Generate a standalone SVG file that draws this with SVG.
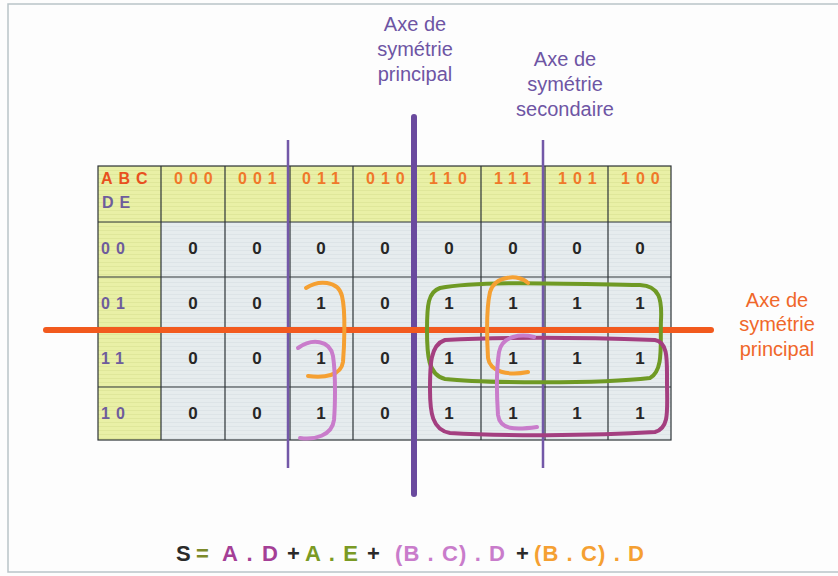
<svg xmlns="http://www.w3.org/2000/svg" width="838" height="576" viewBox="0 0 838 576">
<defs>
<pattern id="hatchY" width="6" height="4" patternUnits="userSpaceOnUse">
<rect width="6" height="4" fill="#e9f0a6"/>
<rect y="2" width="6" height="1" fill="#dfe79a"/>
</pattern>
<pattern id="hatchB" width="6" height="4" patternUnits="userSpaceOnUse">
<rect width="6" height="4" fill="#e6ecee"/>
<rect y="2" width="6" height="1" fill="#dde4e7"/>
</pattern>
</defs>
<style>
.hdr{font-family:"Liberation Sans",Arial,sans-serif;font-weight:bold;font-size:16px;fill:#f0782a;letter-spacing:6px}
.abc{fill:#e8501e}
.rl{font-family:"Liberation Sans",Arial,sans-serif;font-weight:bold;font-size:16px;fill:#6e5c9c;letter-spacing:6px}
.v{font-family:"Liberation Sans",Arial,sans-serif;font-weight:bold;font-size:17px;fill:#262626;text-anchor:middle}
.lbl{font-family:"Liberation Sans",Arial,sans-serif;font-size:20px;text-anchor:middle}
.pl{fill:#6e55a4}
.ol{fill:#f0672a}
.grid{stroke:#2e3438;stroke-width:1.2;fill:none}
.eq{font-family:"Liberation Sans",Arial,sans-serif;font-weight:bold;font-size:22px}
.loop{fill:none;stroke-width:4;stroke-linecap:round;stroke-linejoin:round}
</style>
<rect width="838" height="576" fill="#fdfdfd"/>
<rect x="8" y="4" width="840" height="568" fill="none" stroke="#b9c3c8" stroke-width="1.5"/>

<g id="kmap">
<rect x="98" y="166" width="573" height="56" fill="url(#hatchY)"/>
<rect x="98" y="222" width="63" height="218" fill="url(#hatchY)"/>
<rect x="161" y="222" width="510" height="218" fill="url(#hatchB)"/>
<rect x="98" y="166" width="573" height="274" class="grid" stroke-width="1.6"/>
<path class="grid" d="M161,166V440M225,166V440M290,166V440M353,166V440M416,166V440M481,166V440M545,166V440M608,166V440"/>
<path class="grid" d="M98,222H671M98,277H671M98,332H671M98,387H671"/>
<text class="hdr abc" x="101" y="184">ABC</text>
<text class="rl" x="102" y="208">DE</text>
<g class="hdr">
<text x="174" y="184">000</text><text x="238" y="184">001</text><text x="302" y="184">011</text><text x="366" y="184">010</text>
<text x="429" y="184">110</text><text x="494" y="184">111</text><text x="558" y="184">101</text><text x="621" y="184">100</text>
</g>
<text class="rl" x="101" y="254">00</text>
<text class="rl" x="101" y="309">01</text>
<text class="rl" x="101" y="364">11</text>
<text class="rl" x="101" y="419">10</text>
<g class="v">
<text x="193" y="254">0</text><text x="257" y="254">0</text><text x="321" y="254">0</text><text x="385" y="254">0</text><text x="449" y="254">0</text><text x="513" y="254">0</text><text x="577" y="254">0</text><text x="640" y="254">0</text>
<text x="193" y="309">0</text><text x="257" y="309">0</text><text x="321" y="309">1</text><text x="385" y="309">0</text><text x="449" y="309">1</text><text x="513" y="309">1</text><text x="577" y="309">1</text><text x="640" y="309">1</text>
<text x="193" y="364">0</text><text x="257" y="364">0</text><text x="321" y="364">1</text><text x="385" y="364">0</text><text x="449" y="364">1</text><text x="513" y="364">1</text><text x="577" y="364">1</text><text x="640" y="364">1</text>
<text x="193" y="419">0</text><text x="257" y="419">0</text><text x="321" y="419">1</text><text x="385" y="419">0</text><text x="449" y="419">1</text><text x="513" y="419">1</text><text x="577" y="419">1</text><text x="640" y="419">1</text>
</g>
</g>

<g id="connectors">
<line x1="288" y1="140" x2="288" y2="468" stroke="#7358a8" stroke-width="2.5"/>
<line x1="543" y1="140" x2="543" y2="468" stroke="#7358a8" stroke-width="2.5"/>
<line x1="414" y1="117" x2="414" y2="494" stroke="#6a4a9e" stroke-width="6" stroke-linecap="round"/>
<line x1="46" y1="330" x2="711" y2="330" stroke="#f25a1e" stroke-width="6" stroke-linecap="round"/>
</g>

<g id="loops">
<path class="loop" stroke="#6f9a24" d="M440,288 C480,280 570,284 640,285 C660,286 662,300 661,320 C660,345 664,370 650,378 C600,384 480,383 445,379 C428,375 427,355 427,330 C427,305 428,292 440,288 Z"/>
<path class="loop" stroke="#a43f80" d="M445,340 C520,336 600,338 655,340 C668,342 667,360 667,380 C667,410 670,428 655,432 C590,436 500,436 450,433 C432,430 430,412 430,390 C430,365 430,345 445,340 Z"/>
<path class="loop" stroke="#f5a032" d="M306,288 C318,280 338,280 342,296 C346,312 344,350 343,362 C341,376 324,378 308,376"/>
<path class="loop" stroke="#c97ccb" d="M298,348 C312,338 330,340 333,356 C336,376 335,408 334,420 C332,436 314,440 300,438"/>
<path class="loop" stroke="#f5a032" d="M528,283 C520,274 495,275 490,292 C486,310 487,340 488,358 C490,372 508,376 528,372"/>
<path class="loop" stroke="#c97ccb" d="M534,337 C522,334 502,335 499,352 C496,372 497,400 498,415 C500,430 515,430 537,427"/>
</g>

<g id="label-principal-v" class="lbl pl">
<text x="415" y="31">Axe de</text>
<text x="415" y="56">symétrie</text>
<text x="415" y="81">principal</text>
</g>
<g id="label-secondaire" class="lbl pl">
<text x="565" y="66">Axe de</text>
<text x="565" y="91">symétrie</text>
<text x="565" y="116">secondaire</text>
</g>
<g id="label-principal-h" class="lbl ol">
<text x="777" y="307">Axe de</text>
<text x="777" y="331">symétrie</text>
<text x="777" y="356">principal</text>
</g>

<g id="equation" class="eq">
<text x="176" y="561" fill="#2a2a2a">S</text>
<text x="196" y="561" fill="#7c8a2a">=</text>
<text x="222" y="561" fill="#a43f96" textLength="56" lengthAdjust="spacing">A . D</text>
<text x="287" y="561" fill="#2a2a2a">+</text>
<text x="305" y="561" fill="#7a9a24" textLength="53" lengthAdjust="spacing">A . E</text>
<text x="367" y="561" fill="#2a2a2a">+</text>
<text x="395" y="561" fill="#c97ccb" textLength="110" lengthAdjust="spacing">(B . C) . D</text>
<text x="516" y="561" fill="#2a2a2a">+</text>
<text x="534" y="561" fill="#f5a032" textLength="110" lengthAdjust="spacing">(B . C) . D</text>
</g>
</svg>
